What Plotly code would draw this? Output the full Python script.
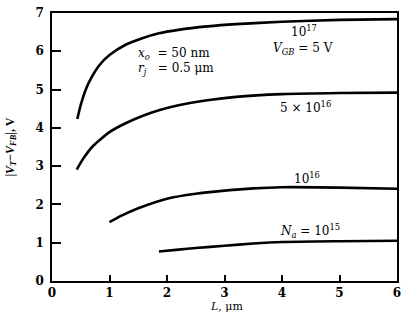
import plotly.graph_objects as go

# Data
L_1e17 = [0.44, 0.5, 0.6, 0.7, 0.82, 1.0, 1.28, 1.57, 1.86, 2.2, 2.7, 3.2, 4.0, 5.0, 6.0]
V_1e17 = [4.23, 4.6, 5.05, 5.35, 5.63, 5.9, 6.17, 6.34, 6.47, 6.56, 6.65, 6.71, 6.77, 6.82, 6.84]

L_5e16 = [0.43, 0.54, 0.71, 1.0, 1.28, 1.57, 1.86, 2.2, 2.7, 3.2, 4.0, 5.0, 6.0]
V_5e16 = [2.91, 3.19, 3.52, 3.89, 4.12, 4.31, 4.46, 4.59, 4.72, 4.81, 4.88, 4.91, 4.92]

L_1e16 = [1.0, 1.2, 1.5, 2.0, 2.5, 3.0, 3.5, 4.0, 5.0, 6.0]
V_1e16 = [1.54, 1.7, 1.9, 2.15, 2.28, 2.36, 2.42, 2.45, 2.44, 2.41]

L_1e15 = [1.86, 2.2, 2.5, 3.0, 3.5, 4.0, 5.0, 6.0]
V_1e15 = [0.77, 0.82, 0.86, 0.92, 0.98, 1.02, 1.04, 1.05]

x_ticks = [0, 1, 2, 3, 4, 5, 6]
y_ticks = [0, 1, 2, 3, 4, 5, 6, 7]

FONT = "DejaVu Serif"

fig = go.Figure()
for xs, ys in [(L_1e17, V_1e17), (L_5e16, V_5e16), (L_1e16, V_1e16), (L_1e15, V_1e15)]:
    fig.add_trace(go.Scatter(x=xs, y=ys, mode="lines",
                             line=dict(color="black", width=2.6, shape="spline", smoothing=0.6),
                             showlegend=False, hoverinfo="skip"))

labels = [
    (4.38, 6.54, "10<sup>17</sup>", "center"),
    (4.37, 6.05, "<i>V<sub>GB</sub></i> = 5 V", "center"),
    (1.46, 5.92, "<i>x<sub>o</sub></i>  = 50 nm", "left"),
    (1.46, 5.53, "<i>r<sub>j</sub></i>   = 0.5 μm", "left"),
    (4.40, 4.55, "5 × 10<sup>16</sup>", "center"),
    (4.43, 2.70, "10<sup>16</sup>", "center"),
    (4.49, 1.31, "<i>N<sub>a</sub></i> = 10<sup>15</sup>", "center"),
]
for x, y, t, anc in labels:
    fig.add_annotation(x=x, y=y, xref="x", yref="y", text=t, showarrow=False,
                       xanchor=anc, yanchor="middle",
                       font=dict(family=FONT, size=12, color="black"))

fig.add_annotation(x=0.505, y=-34 / 270, xref="paper", yref="paper",
                   text="<i>L</i>, μm", showarrow=False, xanchor="center", yanchor="bottom",
                   font=dict(family=FONT, size=11, color="black"))
fig.add_annotation(x=-0.12, y=0.50, xref="paper", yref="paper",
                   text="|<i>V<sub>T</sub></i>−<i>V<sub>FB</sub></i>|, V", showarrow=False,
                   textangle=-90, xanchor="center", yanchor="middle",
                   font=dict(family="Liberation Serif", size=12, color="black", weight="bold"))

axis_common = dict(showgrid=False, zeroline=False, showline=True, linecolor="black",
                   linewidth=1.5, mirror=True, ticks="inside", tickcolor="black",
                   tickwidth=1.5, tickfont=dict(family=FONT, size=12, color="black", weight="bold"))

fig.update_xaxes(range=[0, 6], tickvals=x_ticks, ticklen=6, **axis_common)
fig.update_yaxes(range=[0, 7], tickvals=y_ticks, ticklen=9, ticklabelstandoff=4, **axis_common)

fig.update_layout(width=407, height=315, margin=dict(l=52, r=6, t=11, b=34),
                  plot_bgcolor="white", paper_bgcolor="white")

fig.write_html("out.html")
